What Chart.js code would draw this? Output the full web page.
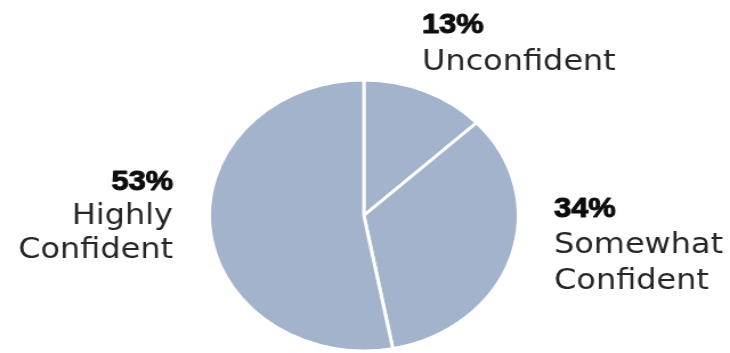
<!DOCTYPE html>
<html>
<head>
<meta charset="utf-8">
<script src="https://cdn.jsdelivr.net/npm/chart.js@4/dist/chart.umd.min.js"></script>
<style>
  html, body { margin: 0; padding: 0; background: #ffffff; overflow: hidden; }
  #wrap { width: 640px; height: 353px; transform: scaleX(1.140625); transform-origin: 0 0; }
  #c { display: block; }
</style>
</head>
<body>
<div id="wrap"><canvas id="c" width="640" height="353"></canvas></div>
<script>
const categories = ["Unconfident", "Somewhat Confident", "Highly Confident"];
const values = [13, 34, 53];
const percentLabels = ["13%", "34%", "53%"];
const nameLines = [["Unconfident"], ["Somewhat", "Confident"], ["Highly", "Confident"]];

// horizontal stretch of the reference image
const SX = 730 / 640;

const labelPlugin = {
  id: 'sliceLabels',
  afterDraw(chart) {
    const ctx = chart.ctx;
    const anchors = [
      { x: 422, y: 33, align: 'left', gap: 37 },
      { x: 554, y: 217, align: 'left', gap: 36 },
      { x: 173, y: 190, align: 'right', gap: 34 }
    ];
    ctx.save();
    ctx.textBaseline = 'alphabetic';
    ctx.lineJoin = 'round';
    anchors.forEach((a, i) => {
      const x = a.x / SX;
      ctx.textAlign = a.align;
      ctx.fillStyle = '#0d0d0d';
      ctx.strokeStyle = '#0d0d0d';
      ctx.lineWidth = 1;
      ctx.font = 'bold 27px "Liberation Sans", Arial, sans-serif';
      ctx.fillText(percentLabels[i], x, a.y);
      ctx.strokeText(percentLabels[i], x, a.y);
      ctx.fillStyle = '#262626';
      ctx.font = '28px "DejaVu Sans"';
      nameLines[i].forEach((ln, j) => {
        ctx.fillText(ln, x, a.y + a.gap * (j + 1));
      });
    });
    ctx.restore();
  }
};

new Chart(document.getElementById('c'), {
  type: 'pie',
  data: {
    labels: categories,
    datasets: [{
      data: values,
      backgroundColor: '#a3b3cb',
      borderColor: '#ffffff',
      borderWidth: 3,
      hoverOffset: 0
    }]
  },
  options: {
    responsive: false,
    animation: false,
    events: [],
    layout: { padding: { left: 182, right: 184, top: 78, bottom: 0 } },
    plugins: {
      legend: { display: false },
      tooltip: { enabled: false }
    }
  },
  plugins: [labelPlugin]
});
</script>
</body>
</html>
